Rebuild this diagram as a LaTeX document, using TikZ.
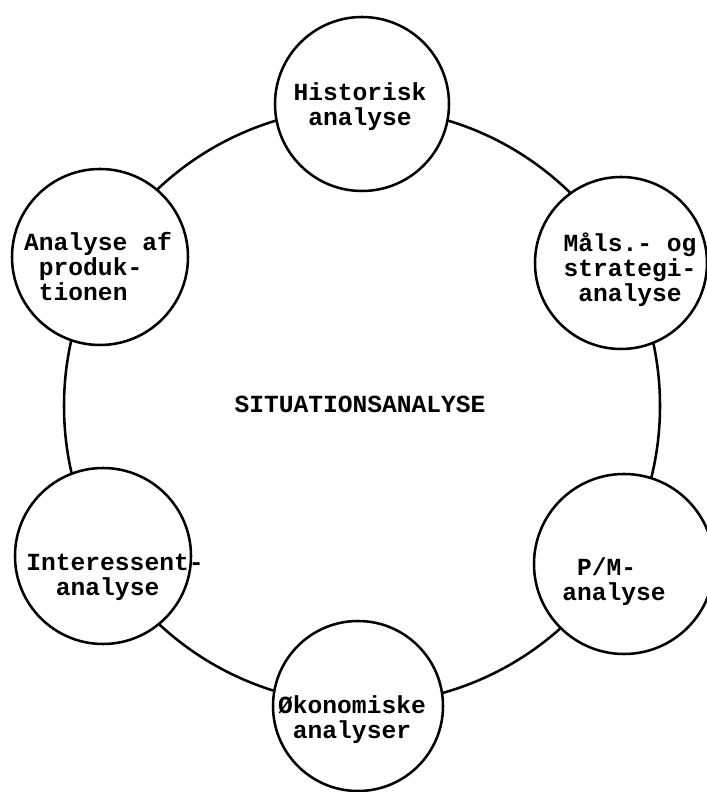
\documentclass[tikz,border=0pt]{standalone}
\usepackage{fontspec}
\setmonofont{Liberation Mono}

\begin{document}
\begin{tikzpicture}[
        blob/.style={circle, draw, line width=1.8pt, fill=white, inner sep=0pt, minimum size=#1},
        blob/.default=4.4cm,
        txt/.style={align=left, inner sep=0pt, font=\ttfamily\bfseries\fontsize{17.5}{17.8}\selectfont}
    ]
    \useasboundingbox (0,0) rectangle (17.675,19.8);

    \node[circle, draw, line width=1.8pt, inner sep=0pt, minimum size=14.9cm] (ring) at (9.05,9.65) {};

    \node[blob=4.35cm] (hist) at (9.05,17.2) {};
    \node[blob] (prod) at (2.5,13.375) {};
    \node[blob=4.3cm] (maal) at (15.525,13.225) {};
    \node[blob] (inte) at (2.575,5.9) {};
    \node[blob=4.5cm] (pm) at (15.6,5.7) {};
    \node[blob=4.25cm] (oeko) at (8.95,2.15) {};

    \node[txt] (thist) at (9.0,17.125) {Historisk\\\phantom{x}analyse};
    \node[txt] (tprod) at (2.45,13.125) {Analyse af\\\phantom{x}produk-\\\phantom{x}tionen};
    \node[txt] (tmaal) at (15.75,13.05) {Måls.- og\\strategi-\\\phantom{x}analyse};
    \node[txt] (tinte) at (2.875,5.375) {Interessent-\\\phantom{xx}analyse};
    \node[txt] (tpm) at (15.35,5.25) {\phantom{x}P/M-\\analyse};
    \node[txt] (toeko) at (8.8,1.8) {Økonomiske\\\phantom{x}analyser};

    \node[txt] (tsit) at (9.0,9.7) {SITUATIONSANALYSE};
\end{tikzpicture}
\end{document}
